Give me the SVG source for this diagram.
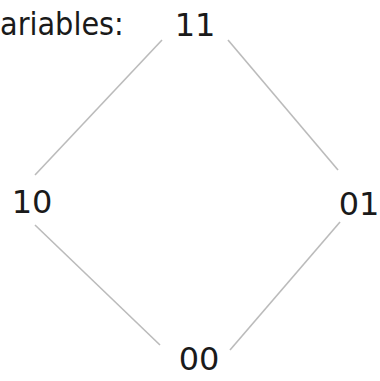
<svg xmlns="http://www.w3.org/2000/svg" width="380" height="381" viewBox="0 0 380 381">
<style>
text{font-family:"DejaVu Sans",sans-serif;font-size:32px;fill:#1a1a1a;text-anchor:middle}
.lbl{font-family:"DejaVu Sans Condensed","DejaVu Sans",sans-serif;text-anchor:start}
.e{stroke:#bbb;stroke-width:1.6;fill:none}
</style>
<rect width="380" height="381" fill="#fff"/>
<text class="lbl" x="0" y="35">ariables:</text>
<g id="edges">
<line class="e" x1="162" y1="40" x2="35" y2="175"/>
<line class="e" x1="228" y1="40" x2="338" y2="170"/>
<line class="e" x1="35" y1="225" x2="160" y2="345"/>
<line class="e" x1="340" y1="222" x2="230" y2="350"/>
</g>
<g id="n11"><text x="195" y="36">11</text></g>
<g id="n10"><text x="32" y="213">10</text></g>
<g id="n01"><text x="359" y="215">01</text></g>
<g id="n00"><text x="199" y="370">00</text></g>
</svg>
